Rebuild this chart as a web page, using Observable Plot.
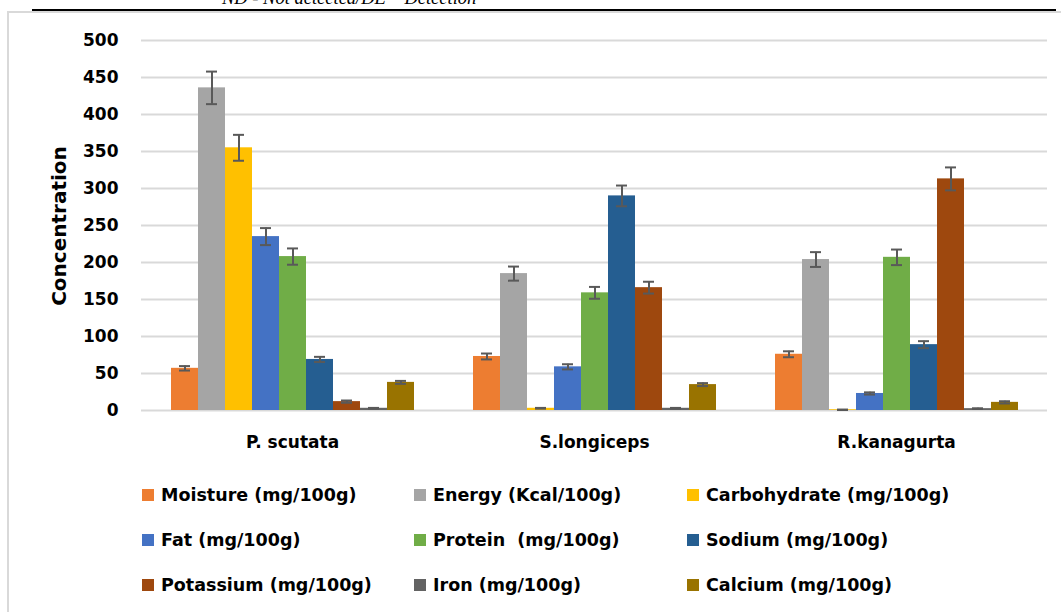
<!DOCTYPE html>
<html>
<head>
<meta charset="utf-8">
<script src="https://cdn.jsdelivr.net/npm/d3@7"></script>
<script src="https://cdn.jsdelivr.net/npm/@observablehq/plot@0.6"></script>
<style>
  html, body { margin: 0; padding: 0; background: #fff; }
  #wrap { position: relative; width: 1061px; height: 612px; overflow: hidden; background: #fff; }
  #note { position: absolute; left: 222px; top: -11px; font-family: "Liberation Serif", serif; font-style: italic; font-size: 18.5px; line-height: 18px; white-space: nowrap; color: #000; }
  #rule { position: absolute; left: 32px; top: 9px; width: 1024px; height: 2px; background: #000; }
  #frame { position: absolute; left: 7px; top: 11px; width: 1060px; height: 610px; border-left: 2px solid #d9d9d9; border-top: 2px solid #d9d9d9; box-sizing: border-box; }
  #chart { position: absolute; left: 0; top: 0; }
  #ylab { position: absolute; left: 59px; top: 226px; transform: translate(-50%, -50%) rotate(-90deg); font-family: "DejaVu Sans", sans-serif; font-weight: bold; font-size: 20px; white-space: nowrap; color: #000; }
  .leg { position: absolute; display: flex; align-items: center; font-family: "DejaVu Sans", sans-serif; font-weight: bold; font-size: 17.5px; white-space: pre; color: #000; height: 24px; }
  .sw { width: 12px; height: 12px; margin-right: 7px; flex: none; }
</style>
</head>
<body>
<div id="wrap">
  <div id="frame"></div>
  <div id="rule"></div>
  <div id="note">ND - Not detected/DE – Detection</div>
  <div id="chart"></div>
  <div id="ylab">Concentration</div>
  <div id="legend"></div>
</div>
<script>
const species = ["P. scutata", "S.longiceps", "R.kanagurta"];
const nutrients = [
  "Moisture (mg/100g)", "Energy (Kcal/100g)", "Carbohydrate (mg/100g)",
  "Fat (mg/100g)", "Protein  (mg/100g)", "Sodium (mg/100g)",
  "Potassium (mg/100g)", "Iron (mg/100g)", "Calcium (mg/100g)"
];
const colors = ["#ED7D31", "#A5A5A5", "#FFC000", "#4472C4", "#70AD47", "#255E91", "#9E480E", "#636363", "#997300"];

const pScutata   = [57, 436, 355, 235, 208, 69, 12, 3, 38];
const sLongiceps = [73, 185, 3, 59, 159, 290, 166, 3, 35];
const rKanagurta = [76, 204, 1, 23, 207, 89, 313, 2.5, 11];

const pScutataErr   = [3, 22, 17.5, 11.5, 11, 3.5, 1.5, 0.5, 2];
const sLongicepsErr = [4, 9.5, 0.5, 3.5, 8, 14, 8, 0.5, 2];
const rKanagurtaErr = [4, 10, 0.3, 1.5, 10.5, 4.7, 15.5, 0.5, 1.5];

const yTicks = [0, 50, 100, 150, 200, 250, 300, 350, 400, 450, 500];

const seriesValues = [pScutata, sLongiceps, rKanagurta];
const seriesErrors = [pScutataErr, sLongicepsErr, rKanagurtaErr];

const data = [];
species.forEach((s, si) => {
  nutrients.forEach((n, ni) => {
    data.push({species: s, nutrient: n, value: seriesValues[si][ni], err: seriesErrors[si][ni]});
  });
});

const errColor = "#595959";

const chart = Plot.plot({
  width: 1061,
  height: 460,
  marginTop: 40,
  marginBottom: 50,
  marginLeft: 141,
  marginRight: 14,
  style: {fontFamily: "DejaVu Sans, sans-serif", fontWeight: "bold", fontSize: "17px", color: "#000", background: "transparent"},
  fx: {domain: species, padding: 0, label: null, tickSize: 0, tickPadding: 25, axis: "bottom"},
  x: {domain: nutrients, paddingInner: 0, paddingOuter: 0.98, axis: null},
  y: {domain: [0, 500], ticks: yTicks, tickSize: 0, tickPadding: 23, label: null},
  color: {domain: nutrients, range: colors},
  marks: [
    Plot.ruleY(yTicks, {y: d => d, stroke: "#d9d9d9", strokeWidth: 2}),
    Plot.barY(data, {fx: "species", x: "nutrient", y: "value", fill: "nutrient", inset: 0}),
    Plot.ruleX(data, {fx: "species", x: "nutrient", y1: d => d.value - d.err, y2: d => d.value + d.err, stroke: errColor, strokeWidth: 2}),
    Plot.tickY(data, {fx: "species", x: "nutrient", y: d => d.value - d.err, stroke: errColor, strokeWidth: 2, insetLeft: 8, insetRight: 8}),
    Plot.tickY(data, {fx: "species", x: "nutrient", y: d => d.value + d.err, stroke: errColor, strokeWidth: 2, insetLeft: 8, insetRight: 8})
  ]
});
document.getElementById("chart").appendChild(chart);

const legend = document.getElementById("legend");
const colX = [142, 414, 687];
const rowY = [495, 540, 585];
nutrients.forEach((n, i) => {
  const item = document.createElement("div");
  item.className = "leg";
  item.style.left = colX[i % 3] + "px";
  item.style.top = (rowY[Math.floor(i / 3)] - 12) + "px";
  const sw = document.createElement("span");
  sw.className = "sw";
  sw.style.background = colors[i];
  const tx = document.createElement("span");
  tx.textContent = n;
  item.appendChild(sw);
  item.appendChild(tx);
  legend.appendChild(item);
});
</script>
</body>
</html>
